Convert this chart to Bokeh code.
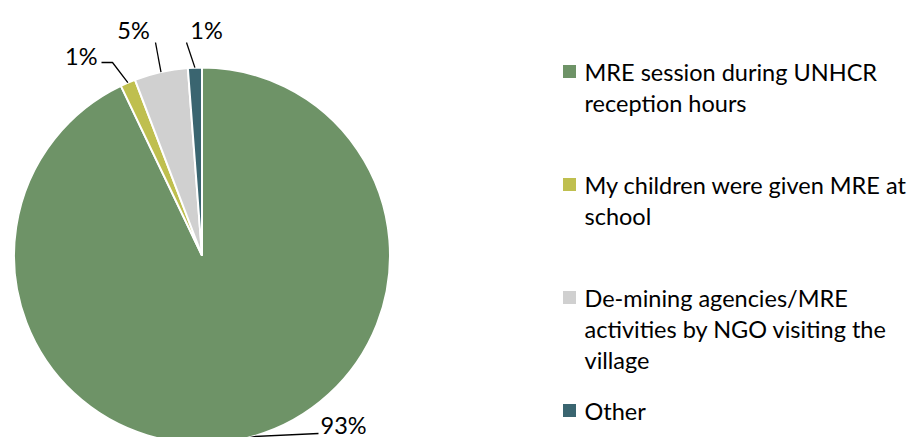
import math
from bokeh.plotting import figure
from bokeh.models import Range1d, ColumnDataSource
from bokeh.core.properties import value
from bokeh.embed import file_html
from bokeh.resources import INLINE

# ---- data ----
categories = [
    "MRE session during UNHCR reception hours",
    "My children were given MRE at school",
    "De-mining agencies/MRE activities by NGO visiting the village",
    "Other",
]
legend_lines = [
    ["MRE session during UNHCR", "reception hours"],
    ["My children were given MRE at", "school"],
    ["De-mining agencies/MRE", "activities by NGO visiting the", "village"],
    ["Other"],
]
shares = [92.9, 1.3, 4.6, 1.2]
colors = ["#6E9367", "#BFBF4F", "#D0D0D0", "#3A6570"]

# ---- layout (screen pixel space of the page) ----
W, H = 923, 437
FONT = "Lato"
FS = "23.5px"


def sx(x):
    return x


def sy(y):
    return H - y


cx, cy, R = 201.5, 255.0, 188.0

p = figure(width=W, height=H, output_backend="svg", toolbar_location=None,
           x_range=Range1d(0, W), y_range=Range1d(0, H), min_border=0)
p.axis.visible = False
p.grid.visible = False
p.outline_line_color = None
p.background_fill_color = "white"
p.border_fill_color = "white"

total = sum(shares)
starts, ends, mids = [], [], []
acc = 0.0
for s in shares:
    a0 = math.pi / 2 - acc / total * 2 * math.pi
    acc += s
    a1 = math.pi / 2 - acc / total * 2 * math.pi
    starts.append(a0)
    ends.append(a1)
    mids.append((a0 + a1) / 2)

src = ColumnDataSource(dict(start=starts, end=ends, color=colors))
p.wedge(x=sx(cx), y=sy(cy), radius=R, start_angle="start", end_angle="end",
        direction="clock", fill_color="color", line_color="white", line_width=2,
        source=src)

# data labels with leader lines
labels = [f"{round(s)}%" for s in shares]
leader_mid = [(255, 436), (112, 62), (155, 42), (186, 42)]
leader_end = [(318, 433), (101, 62), (155, 42), (186, 42)]
text_pos = [(320, 424, "left"), (97, 55, "right"), (133, 29, "center"), (206, 29, "center")]
for i, lab in enumerate(labels):
    ex = cx + R * math.cos(mids[i])
    ey = cy - R * math.sin(mids[i])
    xs = [sx(ex), sx(leader_mid[i][0]), sx(leader_end[i][0])]
    ys = [sy(ey), sy(leader_mid[i][1]), sy(leader_end[i][1])]
    p.line(xs, ys, line_color="black", line_width=1.3)
    tx, ty, al = text_pos[i]
    p.text(x=[sx(tx)], y=[sy(ty)], text=[lab], text_font=value(FONT),
           text_font_size=FS, text_align=al, text_baseline="middle",
           text_color="black")

# legend
leg_x, leg_y0, leg_step, line_h = 569, 71, 113, 31
for i, lines in enumerate(legend_lines):
    my = leg_y0 + i * leg_step
    p.rect(x=[sx(leg_x)], y=[sy(my)], width=13, height=13,
           fill_color=colors[i], line_color=None)
    for j, t in enumerate(lines):
        p.text(x=[sx(584)], y=[sy(my + j * line_h)], text=[t],
               text_font=value(FONT), text_font_size=FS, text_align="left",
               text_baseline="middle", text_color="black")

open("out.html", "w").write(file_html(p, INLINE))
